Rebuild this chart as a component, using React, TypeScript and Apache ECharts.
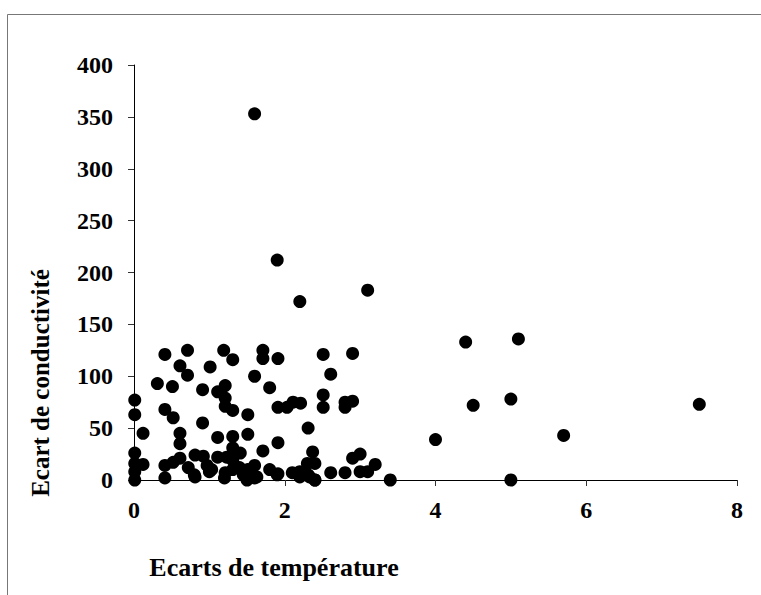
import React, { useEffect, useRef } from "react";
import * as echarts from "echarts";

const xTemp: number[] = [
  1.6, 1.9, 2.2, 3.1, 4.4, 5.1, 4.5, 5.0, 4.0, 5.7, 7.5, 5.0, 3.4,
  0.41, 0.71, 0.61, 0.71, 0.31, 0.51, 0.91, 1.01, 1.19,
  0.01, 0.01, 0.41, 0.52, 0.91, 0.12, 0.61, 0.61, 1.11,
  0.01, 0.01, 0.12, 0.01, 0.01, 0.41, 0.41, 0.52, 0.61, 0.81, 0.92, 0.72, 0.81, 0.97, 1.03, 1.11,
  1.31, 1.71, 1.71, 1.91, 1.6, 1.8, 1.21, 1.11, 1.21, 1.21, 1.31, 1.51,
  1.91, 2.03, 2.11, 2.21, 2.31, 1.31, 1.51, 1.91, 1.71, 1.31, 1.41, 1.23, 1.31,
  1.21, 1.31, 1.51, 1.6, 1.51, 1.63, 1.8, 1.91, 2.1, 2.2, 2.3, 2.37, 2.33,
  2.51, 2.9, 2.61, 2.51, 2.51, 2.8, 2.9, 2.8,
  2.4, 2.4, 2.31, 2.4, 2.61, 2.8, 2.9, 3.0, 3.0, 3.1, 3.2,
  1.2, 1.5, 1.6, 1.9, 2.2, 1.0, 0.8, 1.4, 1.45
];

const yCond: number[] = [
  353, 212, 172, 183, 133, 136, 72, 78, 39, 43, 73, 0, 0,
  121, 125, 110, 101, 93, 90, 87, 109, 125,
  77, 63, 68, 60, 55, 45, 45, 35, 41,
  26, 16, 15, 8, 0, 14, 2, 17, 21, 24, 23, 12, 3, 14, 10, 22,
  116, 125, 117, 117, 100, 89, 91, 85, 79, 71, 67, 63,
  70, 70, 75, 74, 50, 42, 44, 36, 28, 31, 26, 22, 19,
  7, 10, 10, 14, 2, 3, 10, 6, 7, 8, 16, 27, 3,
  121, 122, 102, 82, 70, 75, 76, 70,
  0, 16, 5, 0, 7, 7, 21, 25, 8, 8, 15,
  2, 0, 2, 5, 3, 8, 5, 12, 5
];

const xTicks: number[] = [0, 2, 4, 6, 8];
const yTicks: number[] = [0, 50, 100, 150, 200, 250, 300, 350, 400];

const xTitle = "Ecarts de température";
const yTitle = "Ecart de conductivité";

export default function App() {
  const ref = useRef<HTMLDivElement>(null);
  useEffect(() => {
    if (!ref.current) return;
    const chart = echarts.init(ref.current, null, { renderer: "svg" });
    const font = "'Liberation Serif', 'Times New Roman', serif";
    chart.setOption({
      animation: false,
      backgroundColor: "#ffffff",
      grid: { left: 134, right: 24, top: 65, bottom: 115 },
      xAxis: {
        type: "value",
        min: xTicks[0],
        max: xTicks[xTicks.length - 1],
        interval: 2,
        splitLine: { show: false },
        axisLine: { show: true, onZero: false, lineStyle: { color: "#000", width: 1 } },
        axisTick: { show: true, inside: false, length: 6, lineStyle: { color: "#333" } },
        axisLabel: { margin: 18, fontFamily: font, fontWeight: "bold", fontSize: 24, color: "#000" },
      },
      yAxis: {
        type: "value",
        min: yTicks[0],
        max: yTicks[yTicks.length - 1],
        interval: 50,
        splitLine: { show: false },
        axisLine: { show: true, onZero: false, lineStyle: { color: "#000", width: 1 } },
        axisTick: { show: true, inside: false, length: 6, lineStyle: { color: "#333" } },
        axisLabel: { margin: 21, fontFamily: font, fontWeight: "bold", fontSize: 24, color: "#000" },
      },
      graphic: [
        {
          type: "rect",
          shape: { x: 7.5, y: 14.5, width: 900, height: 800 },
          style: { fill: "none", stroke: "#777", lineWidth: 1 },
          silent: true,
          z: -1,
        },
        {
          type: "text",
          x: 274,
          y: 567,
          style: {
            text: xTitle,
            fontFamily: font,
            fontWeight: "bold",
            fontSize: 26,
            fill: "#000",
            align: "center",
            verticalAlign: "middle",
          },
        },
        {
          type: "text",
          x: 40,
          y: 383,
          rotation: Math.PI / 2,
          style: {
            text: yTitle,
            fontFamily: font,
            fontWeight: "bold",
            fontSize: 25,
            fill: "#000",
            align: "center",
            verticalAlign: "middle",
          },
        },
      ],
      series: [
        {
          type: "scatter",
          symbol: "circle",
          symbolSize: 13,
          itemStyle: { color: "#000", opacity: 1 },
          data: xTemp.map((x, i) => [x, yCond[i]]),
        },
      ],
    });
    return () => chart.dispose();
  }, []);
  return (
    <div
      ref={ref}
      style={{ position: "absolute", left: 0, top: 0, width: 761, height: 595 }}
    />
  );
}
